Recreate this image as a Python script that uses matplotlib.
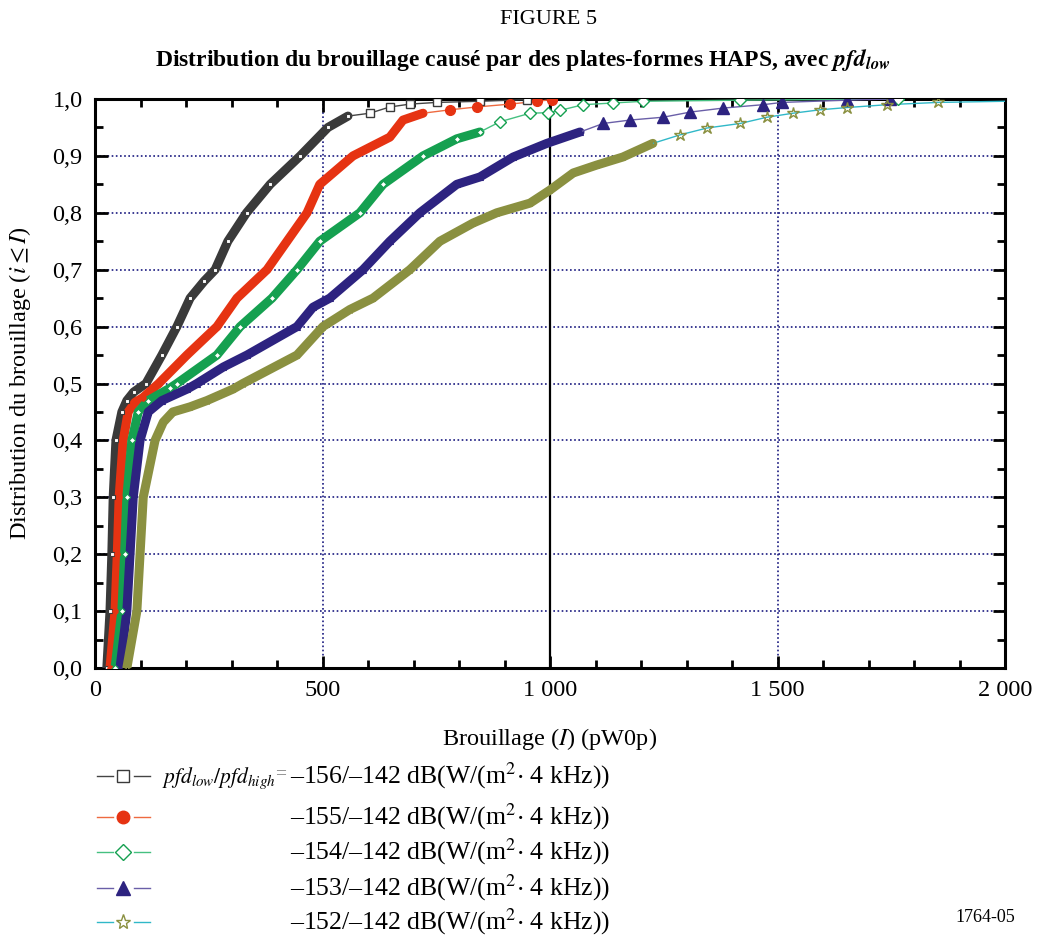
import matplotlib
matplotlib.use("Agg")
import matplotlib.pyplot as plt
import numpy as np

plt.rcParams['font.family'] = ['Liberation Serif', 'DejaVu Serif']
plt.rcParams['mathtext.fontset'] = 'stix'

# valeurs (brouillage en pW0p, distribution cumulée)
x_156 = [26, 33, 37, 40, 46, 59, 70, 85, 112, 147, 180, 209, 240, 264, 292, 333, 385, 451, 512, 556,
         604, 648, 692, 751, 846, 949]
y_156 = [0.0, 0.1, 0.2, 0.3, 0.4, 0.45, 0.47, 0.485, 0.5, 0.55, 0.6, 0.65, 0.68, 0.7, 0.75, 0.8, 0.85, 0.9, 0.95, 0.97,
         0.975, 0.986, 0.991, 0.994, 0.996, 0.999]

x_155 = [33, 44, 49, 53, 62, 73, 88, 105, 140, 202, 268, 312, 378, 422, 466, 494, 567, 648, 677, 721,
         780, 839, 912, 971, 1004]
y_155 = [0.0, 0.1, 0.2, 0.3, 0.4, 0.45, 0.467, 0.475, 0.5, 0.55, 0.6, 0.65, 0.7, 0.75, 0.8, 0.85, 0.9, 0.933, 0.963, 0.975,
         0.981, 0.986, 0.991, 0.996, 0.999]

x_154 = [44, 59, 65, 70, 81, 95, 117, 165, 180, 268, 319, 389, 444, 494, 582, 633, 721, 795, 846,
         890, 956, 996, 1022, 1073, 1139, 1205, 1418, 1765]
y_154 = [0.0, 0.1, 0.2, 0.3, 0.4, 0.45, 0.47, 0.492, 0.5, 0.55, 0.6, 0.65, 0.7, 0.75, 0.8, 0.85, 0.9, 0.93, 0.942,
         0.96, 0.975, 0.976, 0.98, 0.99, 0.993, 0.996, 0.998, 1.0]

x_153 = [55, 70, 77, 84, 99, 117, 147, 202, 224, 282, 334, 444, 479, 516, 589, 648, 714, 795, 846, 919, 993, 1066,
         1117, 1176, 1249, 1308, 1380, 1468, 1510, 1653, 1747]
y_153 = [0.0, 0.1, 0.2, 0.3, 0.4, 0.45, 0.47, 0.49, 0.5, 0.529, 0.55, 0.6, 0.634, 0.65, 0.7, 0.75, 0.8, 0.85, 0.863, 0.898, 0.922, 0.942,
         0.957, 0.963, 0.968, 0.977, 0.984, 0.99, 0.994, 0.998, 1.0]

x_152 = [70, 92, 99, 106, 132, 150, 171, 209, 246, 303, 325, 444, 501, 560, 611, 692, 758, 831, 883, 956, 1000, 1051,
         1103, 1160, 1226, 1286, 1345, 1418, 1477, 1534, 1593, 1653, 1741, 1853, 2000]
y_152 = [0.0, 0.1, 0.2, 0.3, 0.4, 0.432, 0.45, 0.459, 0.47, 0.49, 0.5, 0.55, 0.6, 0.63, 0.65, 0.7, 0.75, 0.782, 0.8, 0.817, 0.84, 0.87,
         0.884, 0.898, 0.922, 0.937, 0.949, 0.957, 0.968, 0.975, 0.981, 0.985, 0.99, 0.994, 0.996]

labels_pfd = ['\u2013156/\u2013142', '\u2013155/\u2013142', '\u2013154/\u2013142', '\u2013153/\u2013142', '\u2013152/\u2013142']

series = [
    # x, y, marker, marker colour, facecolour, line colour, index where the points thin out
    (x_156, y_156, 's', '#3a3a3a', 'white', '#444444', 20),
    (x_155, y_155, 'o', '#e63312', '#e63312', '#ee6a40', 20),
    (x_154, y_154, 'D', '#15a050', 'white', '#45c080', 19),
    (x_153, y_153, '^', '#2d2380', '#2d2380', '#6a5fa8', 22),
    (x_152, y_152, '*', '#8a9040', 'none', '#30b8c8', 25),
]
msizes = [6, 7, 6, 8, 9]

fig = plt.figure(figsize=(10.37, 9.36), dpi=100)
ax = fig.add_axes([95 / 1037, 1 - 668 / 936, 910 / 1037, 569 / 936])

for (xs, ys, mk, mc, fc, lc, nd), ms in zip(series, msizes):
    xs = np.array(xs)
    ys = np.array(ys)
    # partie dense : bande épaisse
    ax.plot(xs[:nd], ys[:nd], '-', color=mc, lw=6.5, solid_capstyle='round', solid_joinstyle='round', zorder=3)
    ax.plot(xs[:nd], ys[:nd], linestyle='none', marker=mk, ms=ms * 0.55, mec=mc, mfc=fc, mew=0.8, zorder=4)
    ax.plot(xs[nd - 1:], ys[nd - 1:], '-', color=lc, lw=1.0, zorder=3)
    last = len(xs) - 1 if xs[-1] >= 2000 else len(xs)
    ax.plot(xs[nd:last], ys[nd:last], linestyle='none', marker=mk, ms=ms, mec=mc,
            mfc=fc, mew=1.0, zorder=4)

ax.set_xlim(0, 2000)
ax.set_ylim(0, 1.0)

xt = [0, 500, 1000, 1500, 2000]
ax.set_xticks(xt)
ax.set_xticklabels(['0', '500', '1 000', '1 500', '2 000'])
ax.set_xticks(np.arange(0, 2001, 100), minor=True)
yt = np.arange(0, 1.01, 0.1)
ax.set_yticks(yt)
ax.set_yticklabels([f'{v:.1f}'.replace('.', ',') for v in yt])
ax.set_yticks(np.arange(0, 1.01, 0.05), minor=True)

ax.tick_params(which='both', direction='in', top=True, right=True, width=2, labelsize=17.5, pad=9)
ax.tick_params(which='major', length=9)
ax.tick_params(which='minor', length=6)
for s in ax.spines.values():
    s.set_linewidth(2.2)

for v in yt[1:-1]:
    ax.axhline(v, color='#1a1a80', lw=1.2, ls=(0, (1, 1.5)), zorder=1)
for v in [500, 1500]:
    ax.axvline(v, color='#1a1a80', lw=1.2, ls=(0, (1, 1.5)), zorder=1)
ax.axvline(1000, color='black', lw=1.6, zorder=2)

ax.set_xlabel(r'Brouillage ($I$) (pW0p)', fontsize=17.5, labelpad=18)
ax.set_ylabel(r'Distribution du brouillage ($i \leq I$)', fontsize=17.5, labelpad=14)

fig.text(549 / 1037, 1 - 20 / 936, 'FIGURE 5', ha='center', va='center', fontsize=16)
fig.text(523 / 1037, 1 - 60 / 936,
         r'Distribution du brouillage causé par des plates-formes HAPS, avec $\mathbfit{pfd}_{\mathbfit{low}}$',
         ha='center', va='center', fontsize=17, fontweight='bold')
fig.text(985 / 1037, 1 - 918 / 936, '1764-05', ha='center', va='center', fontsize=13)

# légende dessinée à la main
lg = fig.add_axes([0, 0, 1, 1])
lg.set_xlim(0, 1037)
lg.set_ylim(936, 0)
lg.axis('off')
lg.patch.set_alpha(0)
rows = [776, 817, 852, 888, 922]
for (xs, ys, mk, mc, fc, lc, nd), ms, ry, lab in zip(series, msizes, rows, labels_pfd):
    lg.plot([97, 113], [ry, ry], color=lc, lw=1.0)
    lg.plot([134, 150], [ry, ry], color=lc, lw=1.0)
    lg.plot([123], [ry], marker=mk, ms=ms + 2, mec=mc, mfc=fc, mew=1.0)
    lg.text(290, ry, lab + r' dB(W/(m$^{2}$$\cdot$ 4 kHz))', ha='left', va='center', fontsize=18.5)
lg.text(162, rows[0] + 2, r'$pfd_{low}/pfd_{high}$', ha='left', va='center', fontsize=15.5)
lg.text(275, rows[0] - 2, '=', ha='left', va='center', fontsize=14, color='#777777')

fig.savefig('out.png', dpi=100)
